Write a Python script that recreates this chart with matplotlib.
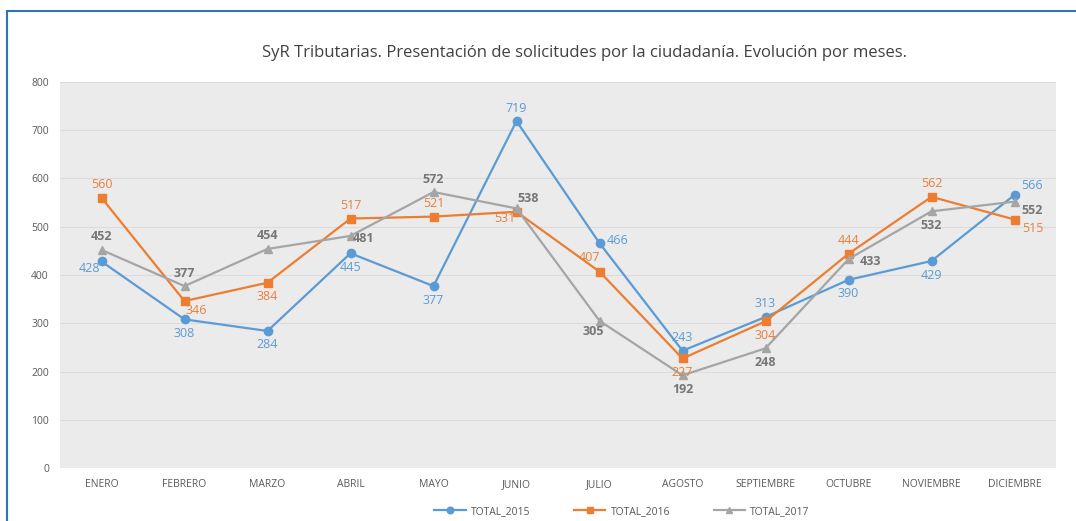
import numpy as np
import matplotlib.pyplot as plt
from matplotlib.patches import Rectangle

# data
meses = ['ENERO', 'FEBRERO', 'MARZO', 'ABRIL', 'MAYO', 'JUNIO', 'JULIO',
         'AGOSTO', 'SEPTIEMBRE', 'OCTUBRE', 'NOVIEMBRE', 'DICIEMBRE']
total_2015 = [428, 308, 284, 445, 377, 719, 466, 243, 313, 390, 429, 566]
total_2016 = [560, 346, 384, 517, 521, 531, 407, 227, 304, 444, 562, 515]
total_2017 = [452, 377, 454, 481, 572, 538, 305, 192, 248, 433, 532, 552]

# where each data label goes (offset in pixels)
pos = {'a': (0, 13), 'b': (0, -14), 'r': (18, 3), 'l': (-16, 0),
       'bl': (-12, -7), 'br': (12, -9), 'al': (-10, 14), 'ar': (12, 10),
       'rb': (18, -9), 'ra': (18, 9), 'r2': (13, -3), 'r3': (22, -2),
       'b2': (-6, -11)}
lab_2015 = ['bl', 'b', 'b', 'b', 'b', 'a', 'r', 'a', 'a', 'b', 'b', 'ra']
lab_2016 = ['a', 'br', 'b', 'a', 'a', 'bl', 'al', 'b', 'b', 'a', 'a', 'rb']
lab_2017 = ['a', 'a', 'a', 'r2', 'a', 'ar', 'b2', 'b', 'b', 'r3', 'b', 'rb']

plt.rcParams['font.family'] = ['Open Sans', 'DejaVu Sans']

fig = plt.figure(figsize=(10.76, 5.21), dpi=100)
ax = fig.add_axes([60/1076, 53/521, 996/1076, 386/521])
ax.set_facecolor('#EBEBEB')

x = np.arange(len(meses))
series = [
    (total_2015, 'TOTAL_2015', '#5B9BD5', 'o', 6, '#5B9BD5', lab_2015, 'normal'),
    (total_2016, 'TOTAL_2016', '#ED7D31', 's', 5.5, '#E8803E', lab_2016, 'normal'),
    (total_2017, 'TOTAL_2017', '#A5A5A5', '^', 5.5, '#767676', lab_2017, 'bold'),
]
for vals, name, col, mk, ms, tcol, labs, fw in series:
    ax.plot(x, vals, color=col, marker=mk, markersize=ms, linewidth=1.6, label=name)
    for xi, v, p in zip(x, vals, labs):
        ax.annotate(str(v), (xi, v), xytext=pos[p], textcoords='offset pixels',
                    ha='center', va='center', fontsize=9, color=tcol, fontweight=fw)

ax.set_xlim(-0.5, len(meses) - 0.5)
ax.set_ylim(0, 800)
ax.set_yticks(range(0, 801, 100))
ax.set_xticks(x)
ax.set_xticklabels(meses)
ax.grid(axis='y', color='#DCDCDC', linewidth=0.8)
ax.set_axisbelow(True)
for s in ax.spines.values():
    s.set_visible(False)
ax.tick_params(length=0, labelsize=7.5, colors='#595959')
ax.tick_params(axis='y', pad=8)
ax.tick_params(axis='x', pad=8)

fig.text(0.543, 0.898, 'SyR Tributarias. Presentación de solicitudes por la ciudadanía. Evolución por meses.',
         ha='center', va='center', fontsize=12, color='#404040')

fig.legend(loc='center', bbox_to_anchor=(0.578, 0.018), ncol=3, frameon=False,
           fontsize=7.5, handlelength=3, handletextpad=0.5, columnspacing=4.2,
           markerscale=0.8, labelcolor='#595959')

fig.patches.append(Rectangle((7/1076, -0.1), 1.2, (521 - 11)/521 + 0.1, transform=fig.transFigure,
                             fill=False, edgecolor='#2E75B6', linewidth=1.5))

fig.savefig('out.png', dpi=100)
